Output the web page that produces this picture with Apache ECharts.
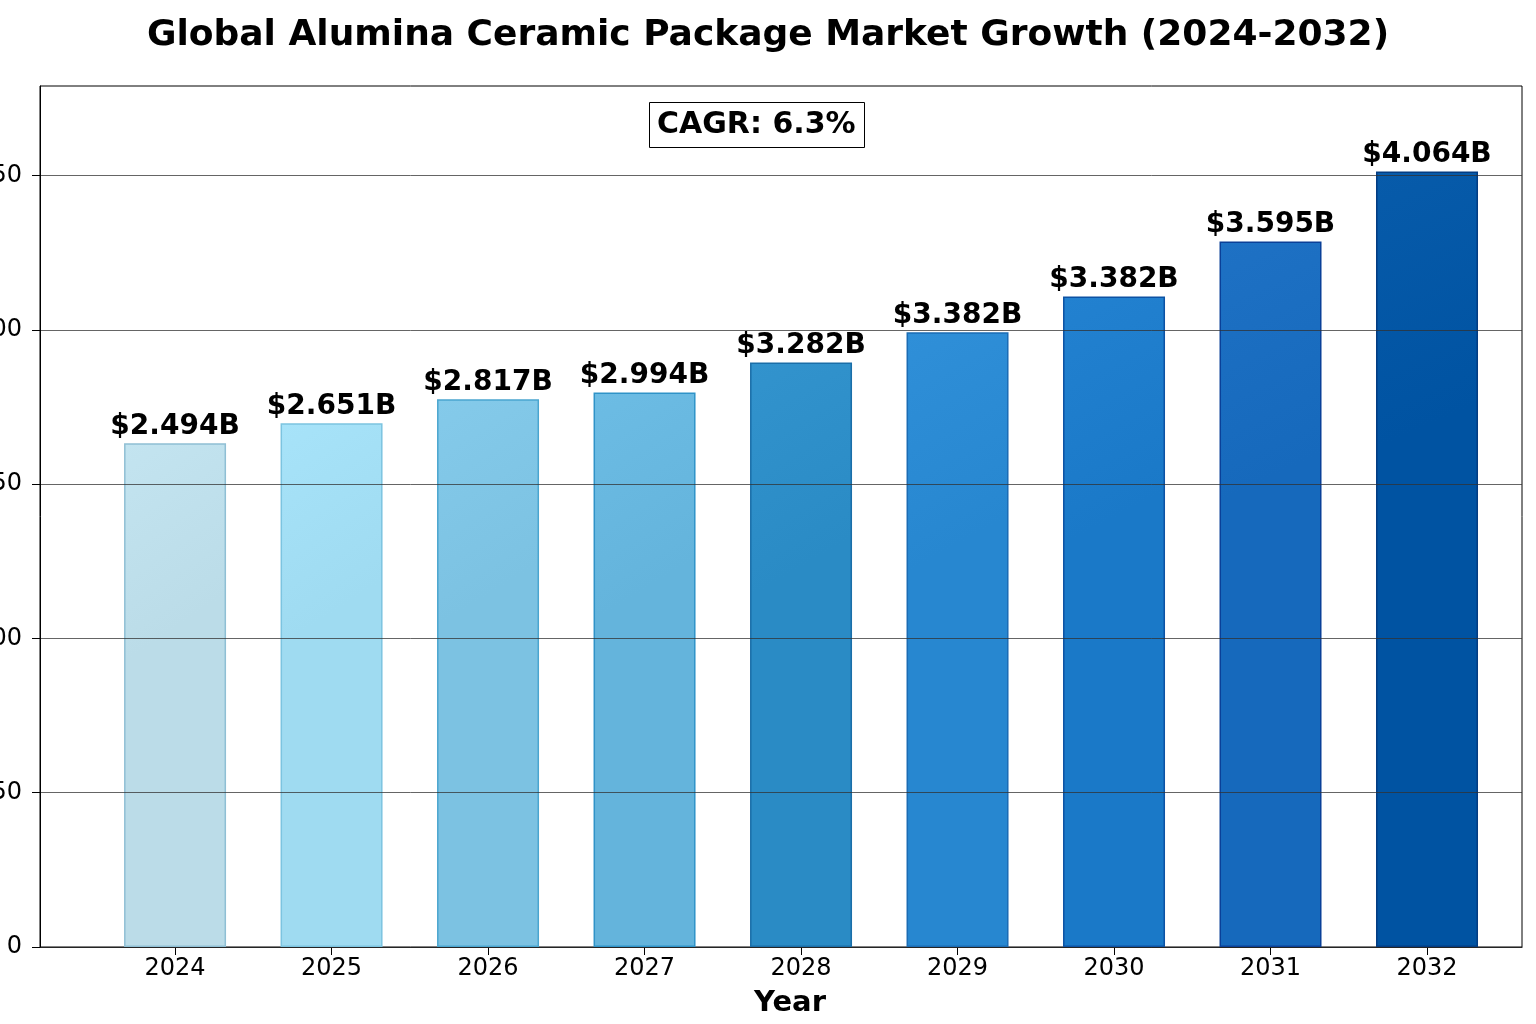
<!DOCTYPE html>
<html>
<head>
<meta charset="utf-8">
<title>Global Alumina Ceramic Package Market Growth</title>
<script src="https://cdn.jsdelivr.net/npm/echarts@6/dist/echarts.min.js"></script>
<style>
    html, body { margin: 0; padding: 0; background: #fff; }
    #main { width: 1536px; height: 1024px; }
</style>
</head>
<body>
<div id="main"></div>
<script>
// years on the x axis
var years = ['2024', '2025', '2026', '2027', '2028', '2029', '2030', '2031', '2032'];
// bar heights
var barValues = [163.2, 169.7, 177.5, 179.7, 189.4, 199.2, 210.8, 228.6, 251.3];
// text printed above each bar (as in the picture)
var barLabels = ['$2.494B', '$2.651B', '$2.817B', '$2.994B', '$3.282B', '$3.382B', '$3.382B', '$3.595B', '$4.064B'];
// y tick labels
var yTicks = [0, 50, 100, 150, 200, 250];
// bar fill and edge colours
var fillColors = ['#bfe0ec', '#a3dff5', '#80c6e6', '#68b8e0', '#2e8fc9', '#2b8bd4', '#1e7dcc', '#1a6dc0', '#0357a6'];
var edgeColors = ['#8fbfd4', '#7cc4e0', '#4aa5cf', '#2f93c8', '#1a6ea8', '#1b6cb4', '#0c52a4', '#0a4098', '#033c82'];

var xIdx = [];
for (var i = 0; i < years.length; i++) {
    xIdx.push(i);
}

function shade(hex, amt) {
    var n = parseInt(hex.slice(1), 16);
    var r = Math.min(255, Math.max(0, (n >> 16) + amt));
    var g = Math.min(255, Math.max(0, ((n >> 8) & 255) + amt));
    var b = Math.min(255, Math.max(0, (n & 255) + amt));
    return 'rgb(' + r + ',' + g + ',' + b + ')';
}

var barData = [];
for (var j = 0; j < barValues.length; j++) {
    barData.push({
        value: [j, barValues[j]],
        itemStyle: {
            color: {
                type: 'linear', x: 0, y: 0, x2: 1, y2: 0.3,
                colorStops: [
                    { offset: 0, color: shade(fillColors[j], 4) },
                    { offset: 1, color: shade(fillColors[j], -4) }
                ]
            },
            borderColor: edgeColors[j],
            borderWidth: 1.5
        }
    });
}

var myChart = echarts.init(document.getElementById('main'));

var option = {
    backgroundColor: '#fff',
    animation: false,
    title: [{
        text: 'Global Alumina Ceramic Package Market Growth (2024-2032)',
        left: 'center',
        top: 13,
        textStyle: {
            fontFamily: 'DejaVu Sans',
            fontWeight: 'bold',
            fontSize: 36,
            color: '#000'
        }
    }, {
        // CAGR box
        text: 'CAGR: 6.3%',
        left: 649,
        top: 102,
        padding: [6, 9, 6, 8],
        borderColor: '#000',
        borderWidth: 1,
        backgroundColor: '#fff',
        textStyle: {
            fontFamily: 'DejaVu Sans',
            fontWeight: 'bold',
            fontSize: 30,
            lineHeight: 34,
            color: '#000'
        }
    }],
    grid: {
        left: 40,
        right: 14,
        top: 86,
        bottom: 77,
        outerBoundsMode: 'none',
        containLabel: false,
        show: true,
        borderColor: '#000',
        borderWidth: 1,
        backgroundColor: 'transparent'
    },
    xAxis: {
        type: 'value',
        min: -0.863,
        max: 8.607,
        name: 'Year',
        nameLocation: 'middle',
        nameGap: 42,
        nameTextStyle: {
            fontFamily: 'DejaVu Sans',
            fontWeight: 'bold',
            fontSize: 29,
            color: '#000',
            padding: [0, 0, 0, 18]
        },
        axisLine: { show: true, onZero: false, lineStyle: { color: '#000', width: 1 } },
        axisTick: {
            show: true,
            length: 8,
            customValues: xIdx,
            lineStyle: { color: '#000' }
        },
        axisLabel: {
            customValues: xIdx,
            margin: 10,
            fontFamily: 'DejaVu Sans',
            fontSize: 24,
            color: '#000',
            formatter: function(v) {
                return years[Math.round(v)];
            }
        },
        splitLine: { show: false }
    },
    yAxis: {
        type: 'value',
        min: 0,
        max: 279,
        z: 3,
        axisLine: { show: true, onZero: false, lineStyle: { color: '#000', width: 1 } },
        axisTick: {
            show: true,
            length: 8,
            customValues: yTicks,
            lineStyle: { color: '#000' }
        },
        axisLabel: {
            customValues: yTicks,
            margin: 18,
            fontFamily: 'DejaVu Sans',
            fontSize: 24,
            color: '#000'
        },
        splitLine: {
            show: true,
            lineStyle: { color: 'rgba(50,50,50,0.75)', width: 1 }
        }
    },
    series: [{
        type: 'bar',
        barWidth: 102,
        data: barData,
        label: {
            show: true,
            position: 'top',
            distance: 3,
            fontFamily: 'DejaVu Sans',
            fontWeight: 'bold',
            fontSize: 28,
            color: '#000',
            formatter: function(p) {
                return barLabels[p.dataIndex];
            }
        }
    }]
};

myChart.setOption(option);
</script>
</body>
</html>
